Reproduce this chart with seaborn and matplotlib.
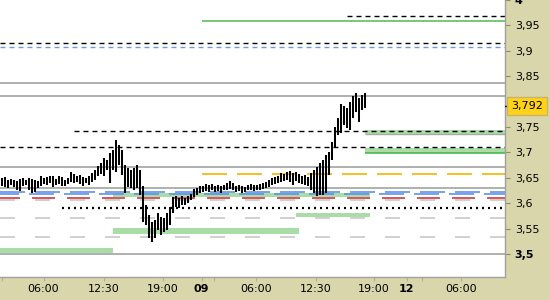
import numpy as np
import pandas as pd
import matplotlib
matplotlib.use("Agg")
import matplotlib.pyplot as plt
import matplotlib.transforms as mtrans
import seaborn as sns

# ---------------- data ----------------
highs = [3.650, 3.652, 3.646, 3.648, 3.646, 3.644, 3.648, 3.650, 3.646, 3.650, 3.648,
         3.646, 3.644, 3.654, 3.650, 3.652, 3.654, 3.654, 3.648, 3.654, 3.652,
         3.646, 3.650, 3.661, 3.658, 3.654, 3.656, 3.652, 3.650, 3.654, 3.659, 3.665,
         3.673, 3.679, 3.689, 3.685, 3.699, 3.705, 3.724, 3.715, 3.705, 3.675, 3.669,
         3.665, 3.669, 3.675,
         3.665, 3.634, 3.596, 3.577, 3.563, 3.567, 3.581, 3.573, 3.571, 3.581, 3.593,
         3.612, 3.614, 3.610, 3.614, 3.610, 3.614, 3.618, 3.628, 3.630, 3.634,
         3.634, 3.638, 3.636, 3.638, 3.634, 3.636, 3.634, 3.636, 3.640, 3.644, 3.640,
         3.634, 3.636, 3.634, 3.632, 3.636, 3.638, 3.636, 3.636, 3.638, 3.640, 3.642,
         3.646, 3.650, 3.652, 3.654, 3.659, 3.658, 3.661, 3.663, 3.659, 3.661, 3.658,
         3.654, 3.656, 3.652,
         3.659, 3.665, 3.671, 3.679, 3.685, 3.695, 3.701, 3.721, 3.750, 3.768, 3.795,
         3.791, 3.787, 3.799, 3.811, 3.817, 3.807, 3.813, 3.817]
lows = [3.634, 3.632, 3.630, 3.636, 3.632, 3.626, 3.624, 3.634, 3.636, 3.626, 3.620,
        3.622, 3.630, 3.634, 3.638, 3.636, 3.640, 3.632, 3.636, 3.638, 3.634,
        3.634, 3.638, 3.642, 3.640, 3.642, 3.638, 3.634, 3.640, 3.636, 3.642, 3.646,
        3.654, 3.658, 3.654, 3.665, 3.640, 3.665, 3.661, 3.675, 3.656, 3.620, 3.632,
        3.630, 3.626, 3.630,
        3.616, 3.563, 3.557, 3.532, 3.524, 3.532, 3.547, 3.537, 3.543, 3.547, 3.557,
        3.581, 3.593, 3.591, 3.596, 3.596, 3.600, 3.606, 3.612, 3.616, 3.620,
        3.622, 3.624, 3.622, 3.626, 3.622, 3.624, 3.620, 3.626, 3.626, 3.628, 3.626,
        3.622, 3.624, 3.620, 3.622, 3.626, 3.626, 3.624, 3.626, 3.626, 3.628, 3.630,
        3.632, 3.636, 3.638, 3.640, 3.642, 3.644, 3.646, 3.642, 3.636, 3.644, 3.640,
        3.638, 3.636, 3.634,
        3.626, 3.620, 3.614, 3.616, 3.616, 3.620, 3.656, 3.685, 3.709, 3.734, 3.738,
        3.754, 3.748, 3.744, 3.768, 3.780, 3.760, 3.784, 3.787]
last_price = 3.792

x_tick_pos = [14, 34, 53.7, 66.7, 84.7, 104.7, 124, 135, 153.3]
x_tick_labels = ["06:00", "12:30", "19:00", "09", "06:00", "12:30", "19:00", "12", "06:00"]
x_minor_pos = [0, 70.7, 140]

y_tick_pos = [3.5, 3.55, 3.6, 3.65, 3.7, 3.75, 3.85, 3.9, 3.95, 4.0]
y_tick_labels = ["3,5", "3,55", "3,6", "3,65", "3,7", "3,75", "3,85", "3,9", "3,95", "4"]

# horizontal levels: value, start bar, kind
level_values = [3.968, 3.959, 3.915, 3.907, 3.837, 3.811, 3.742, 3.711, 3.671,
                3.657, 3.630, 3.622, 3.618, 3.611, 3.607, 3.591, 3.571, 3.534, 3.500]
level_starts = [115, 66.7, None, None, None, None, 24.3, None, None,
                66.7, None, None, None, None, None, 20, None, None, None]
level_kinds = ["blackdash", "green", "blackdash", "bluedash", "gray", "gray", "blackdash",
               "blackdash", "gray", "orange", "gray", "bluelong", "bluelong2", "red",
               "lightgray", "dotted", "lightgray", "lightgray", "gray"]

# zones (support / resistance bands)
zone_lo = [3.736, 3.699, 3.612, 3.572, 3.539, 3.502]
zone_hi = [3.744, 3.709, 3.620, 3.581, 3.551, 3.512]
zone_start = [121, 121, 37, 98.3, 37, -0.5]
zone_end = [167.8, 167.8, 122.7, 122.7, 99.3, 37]

# ---------------- style ----------------
sns.set_theme(style="white")
plt.rcParams["font.family"] = ["DejaVu Sans"]
plt.rcParams["lines.scale_dashes"] = False

TAN = "#d8d6aa"
XMIN, XMAX = -0.5, 167.8
YMIN, YMAX = 3.4547, 4.0

fig = plt.figure(figsize=(5.5, 3.0), dpi=100, facecolor=TAN)
ax = fig.add_axes([0, 23 / 300, 505 / 550, 277 / 300])
ax.set_facecolor("white")

px = 0.72  # points per pixel
styles = {
    "blackdash": dict(color="black", lw=1.0, ls=(0, (5 * px, 4 * px))),
    "bluedash": dict(color="#6f98e6", lw=1.0, ls=(0, (5 * px, 4 * px))),
    "green": dict(color="#5cc05c", lw=1.2, ls="-"),
    "gray": dict(color="#a9a9a9", lw=1.3, ls="-"),
    "orange": dict(color="#f4b400", lw=1.2, ls=(0, (25 * px, 10 * px))),
    "bluelong": dict(color="#5d92ea", lw=1.2, ls=(0, (25 * px, 10 * px))),
    "bluelong2": dict(color="#5d92ea", lw=1.2, ls=(6 * px, (25 * px, 10 * px))),
    "red": dict(color="#d23a3a", lw=1.2, ls=(3 * px, (23 * px, 12 * px))),
    "lightgray": dict(color="#c8c8c8", lw=1.2, ls=(0, (15 * px, 20 * px))),
    "dotted": dict(color="black", lw=1.6, ls=(0, (2 * px, 4 * px))),
}

# zones
for lo, hi, s, e in zip(zone_lo, zone_hi, zone_start, zone_end):
    ax.fill_between([s, e], [lo, lo], [hi, hi], color="#a9dca6", lw=0, zorder=1)
ax.hlines(3.736, 121, XMAX, color="#a9a9a9", lw=1.0, zorder=1.5)
ax.hlines(3.699, 121, XMAX, color="#4cb84c", lw=1.2, zorder=1.5)

# levels
for v, s, k in zip(level_values, level_starts, level_kinds):
    st = styles[k]
    ax.hlines(v, XMIN if s is None else s, XMAX, colors=st["color"],
              linewidth=st["lw"], linestyles=[st["ls"]], zorder=2)

# price bars through seaborn
idx = np.arange(len(highs))
df = pd.DataFrame({
    "bar": np.repeat(idx, 2),
    "price": np.column_stack([lows, highs]).ravel(),
})
sns.lineplot(data=df, x="bar", y="price", units="bar", estimator=None, sort=False,
             color="black", linewidth=1.45, ax=ax, legend=False, zorder=3,
             solid_capstyle="butt")

ax.set_xlim(XMIN, XMAX)
ax.set_ylim(YMIN, YMAX)
ax.set_xlabel("")
ax.set_ylabel("")

# axes / ticks
for side in ["left", "top"]:
    ax.spines[side].set_visible(False)
for side in ["right", "bottom"]:
    ax.spines[side].set_visible(True)
    ax.spines[side].set_color("#a0a0a0")
    ax.spines[side].set_linewidth(1.0)

ax.yaxis.tick_right()
ax.set_yticks(y_tick_pos)
ax.set_yticklabels(y_tick_labels)
ax.tick_params(axis="y", which="major", right=True, left=False, length=3.5, width=0.8,
               color="#8a8a70", pad=3.5, labelsize=8, labelcolor="black")
ax.set_xticks(x_tick_pos)
ax.set_xticklabels(x_tick_labels)
ax.set_xticks(x_minor_pos, minor=True)
ax.tick_params(axis="x", which="both", bottom=True, length=3, width=0.8,
               color="#b0b0a0", pad=2, labelsize=8, labelcolor="black")
for lab in ax.get_xticklabels():
    if lab.get_text() in ("09", "12"):
        lab.set_fontweight("bold")
for lab in ax.get_yticklabels():
    if lab.get_text() in ("3,5", "4"):
        lab.set_fontweight("bold")

# last price label
trans = mtrans.blended_transform_factory(ax.transAxes, ax.transData)
ax.plot([1.0, 1.0 + 4 / 505], [last_price, last_price], color="black", lw=1.0,
        transform=trans, clip_on=False, zorder=5)
ax.text(1.0 + 6 / 505, last_price, "3,792", transform=trans, ha="left", va="center",
        fontsize=8, color="black", zorder=6,
        bbox=dict(boxstyle="square,pad=0.35", fc="#ffd21a", ec="#c9b46a", lw=1.0))

fig.savefig("out.png", dpi=100, facecolor=TAN)
